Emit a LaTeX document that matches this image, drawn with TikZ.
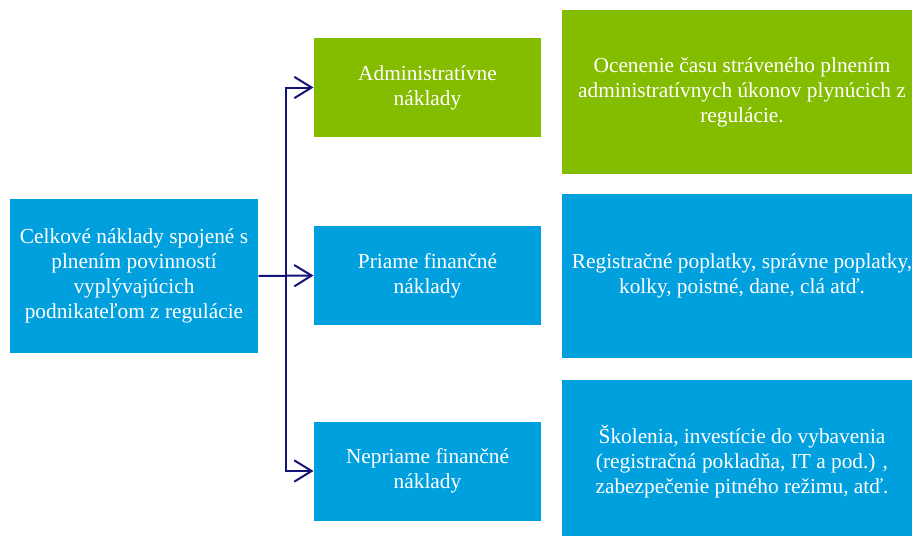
\documentclass[tikz,border=0pt]{standalone}
\usepackage{fontspec}
\setmainfont{Liberation Serif}
\usetikzlibrary{arrows.meta}

\definecolor{costgreen}{RGB}{132,189,0}
\definecolor{costblue}{RGB}{0,160,223}
\definecolor{costnavy}{RGB}{20,20,120}

\tikzset{every picture/.style={line width=0.75pt}}
\tikzset{
  costbox/.style={fill=#1, text=white, align=center, inner sep=0pt,
    font=\fontsize{16}{18.75}\selectfont},
  leftbox/.style={costbox=costblue, minimum width=186pt, minimum height=115.5pt},
  midbox/.style={costbox=#1, minimum width=170.25pt, minimum height=74.25pt},
  descbox/.style={costbox=#1, minimum width=270pt, minimum height=123pt},
  conn/.style={draw=costnavy, line width=1.5pt,
    -{Straight Barb[length=13pt,width=16pt,line width=1.5pt]}}
}

\begin{document}
\begin{tikzpicture}[x=0.75pt,y=0.75pt,yscale=-1,xscale=1]
\useasboundingbox (0,0) rectangle (912,535);
\clip (0,0) rectangle (912,535);

%Shape: Rectangle (left)
\node [leftbox] (total) at (134,276) {Celkové náklady spojené s\\plnením povinností\\vyplývajúcich\\podnikateľom z regulácie};

%Shape: Rectangle (middle)
\node [midbox=costgreen] (admin) at (427.5,87.5) {Administratívne\\náklady};
\node [midbox=costblue] (priame) at (427.5,275.5) {Priame finančné\\náklady};
\node [midbox=costblue] (nepriame) at (427.5,471) {Nepriame finančné\\náklady};

%Shape: Rectangle (right)
\node [descbox=costgreen] (adminDesc) at (742,92) {Ocenenie času stráveného plnením\\administratívnych úkonov plynúcich z\\regulácie.};
\node [descbox=costblue] (priameDesc) at (742,275.5) {Registračné poplatky, správne poplatky,\\kolky, poistné, dane, clá atď.};
\node [descbox=costblue] (nepriameDesc) at (742,462) {Školenia, investície do vybavenia\\(registračná pokladňa, IT a pod.) ,\\zabezpečenie pitného režimu, atď.};

%Straight Lines
\coordinate (split) at (286,276);
\draw [conn] (total.east) -- (priame.west);
\draw [conn] (split) |- (admin.west);
\draw [conn] (split) |- (nepriame.west);

\end{tikzpicture}
\end{document}
